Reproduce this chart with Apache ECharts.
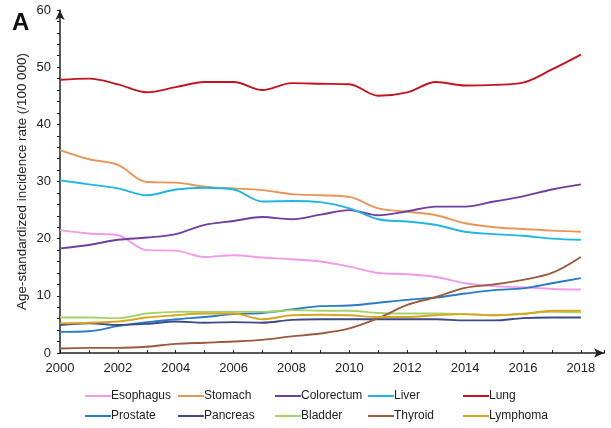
<!DOCTYPE html>
<html><head><meta charset="utf-8">
<script src="https://cdn.jsdelivr.net/npm/echarts@6/dist/echarts.min.js"></script>
<style>html,body{margin:0;padding:0;background:#fff}#c{width:611px;height:428px}</style>
</head><body><div id="c"></div>
<script>
const years = [2000,2001,2002,2003,2004,2005,2006,2007,2008,2009,2010,2011,2012,2013,2014,2015,2016,2017,2018];
const esophagus  = [21.5,20.9,20.6,18.0,17.9,16.8,17.1,16.7,16.4,16.0,15.1,14.0,13.8,13.3,12.2,11.7,11.5,11.2,11.1];
const stomach    = [35.5,33.9,32.9,29.9,29.8,29.1,28.8,28.5,27.8,27.6,27.3,25.3,24.7,24.1,22.7,22.0,21.7,21.4,21.2];
const colorectum = [18.3,18.9,19.8,20.2,20.8,22.4,23.1,23.8,23.4,24.2,25.0,24.1,24.8,25.6,25.6,26.5,27.4,28.6,29.5];
const liver      = [30.2,29.5,28.8,27.6,28.6,28.9,28.6,26.5,26.6,26.4,25.3,23.4,23.0,22.4,21.2,20.8,20.5,20.0,19.8];
const lung       = [47.8,48.0,47.0,45.6,46.5,47.4,47.4,46.0,47.2,47.1,47.0,45.0,45.6,47.4,46.8,46.9,47.3,49.6,52.2];
const prostate   = [3.7,3.8,4.7,5.4,5.9,6.3,6.8,7.0,7.6,8.2,8.3,8.8,9.3,9.7,10.4,11.0,11.3,12.2,13.1];
const pancreas   = [4.9,5.2,4.9,5.1,5.5,5.3,5.4,5.3,5.8,5.9,5.9,5.9,5.9,5.9,5.7,5.7,6.1,6.2,6.2];
const bladder    = [6.2,6.2,6.1,6.9,7.2,7.2,7.2,7.2,7.5,7.4,7.4,7.0,6.9,6.9,6.8,6.6,6.9,7.2,7.1];
const thyroid    = [0.8,0.9,0.9,1.1,1.6,1.8,2.0,2.3,2.9,3.4,4.3,6.1,8.4,9.8,11.4,12.0,12.8,14.0,16.8];
const lymphoma   = [5.2,5.3,5.5,6.2,6.6,6.9,6.9,5.9,6.6,6.7,6.6,6.3,6.3,6.6,6.8,6.6,6.8,7.4,7.4];

const names = ['Esophagus','Stomach','Colorectum','Liver','Lung','Prostate','Pancreas','Bladder','Thyroid','Lymphoma'];
const values = [esophagus,stomach,colorectum,liver,lung,prostate,pancreas,bladder,thyroid,lymphoma];
const colors = ['#f29ae9','#e8955a','#6f3f9e','#22b5e2','#c3141f','#2a7cc4','#3b4a86','#a4d36a','#9a5a3e','#d6a624'];
const legendPos = [[85,390],[178,390],[275,390],[368,390],[463,390],[85,410],[178,410],[275,410],[368,410],[463,410]];

const chart = echarts.init(document.getElementById('c'), null, {renderer:'canvas'});
const axisColor = '#222';
const ff = 'Liberation Sans, Arial';
chart.setOption({
  animation:false,
  title:{text:'A', left:7, top:6, textStyle:{fontSize:24, fontWeight:'bold', color:'#111', fontFamily:ff}},
  grid:{left:60, top:10, width:544, height:343, containLabel:false},
  xAxis:{type:'value', min:2000, max:2018.8, interval:1,
    axisLine:{show:true, lineStyle:{color:axisColor, width:1.5}, symbol:['none','arrow'], symbolSize:[7,10]},
    axisTick:{show:true, length:3, inside:true, lineStyle:{color:axisColor}},
    axisLabel:{formatter:function(v){return (Math.round(v)===v && v%2===0 && v<=2018)? String(v):'';}, color:'#222', fontSize:13, fontFamily:ff, margin:9},
    splitLine:{show:false}},
  yAxis:{type:'value', min:0, max:60, interval:10,
    name:'Age-standardized incidence rate (/100 000)', nameLocation:'middle', nameGap:31, nameMoveOverlap:false,
    nameTextStyle:{fontSize:13.4, color:'#222', fontFamily:ff},
    axisLine:{show:true, lineStyle:{color:axisColor, width:1.5}, symbol:['none','arrow'], symbolSize:[7,10]},
    axisTick:{show:true, length:3, lineStyle:{color:axisColor}},
    minorTick:{show:true, splitNumber:5, length:3, lineStyle:{color:axisColor}},
    axisLabel:{color:'#222', fontSize:13, fontFamily:ff, margin:9},
    splitLine:{show:false}},
  legend: names.map((n,i)=>({data:[n], left:legendPos[i][0], top:legendPos[i][1], icon:'rect', itemWidth:26, itemHeight:2, itemGap:0,
    textStyle:{fontSize:12, color:'#222', fontFamily:ff, padding:[0,0,0,-5]}, padding:0})),
  series: names.map((n,i)=>({name:n, type:'line', smooth:0.35, symbol:'none',
    data: years.map((y,j)=>[y, values[i][j]]),
    lineStyle:{color:colors[i], width:1.9}, itemStyle:{color:colors[i]}}))
});
</script></body></html>
